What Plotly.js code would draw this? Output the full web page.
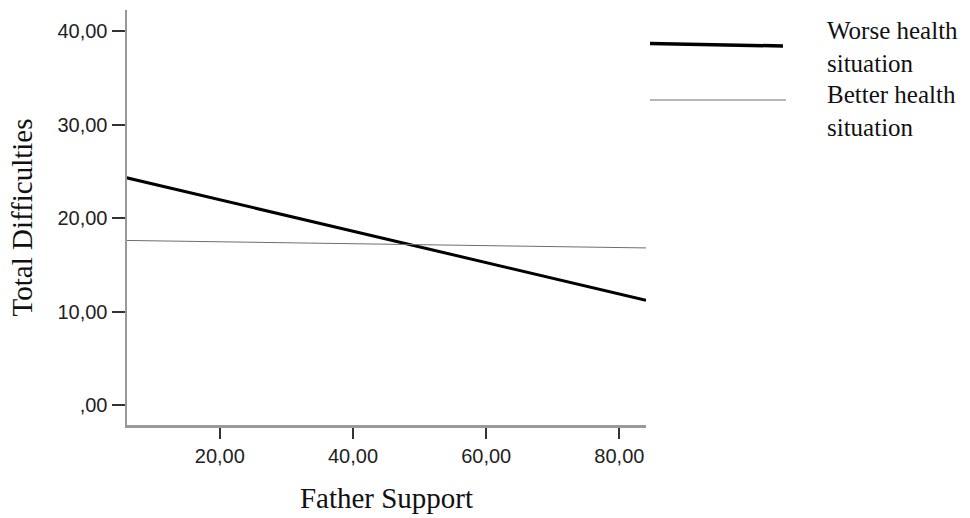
<!DOCTYPE html>
<html>
<head>
<meta charset="utf-8">
<script src="https://cdn.plot.ly/plotly-3.0.1.min.js"></script>
<style>html,body{margin:0;padding:0;background:#fff;}#chart{width:970px;height:518px;}</style>
</head>
<body>
<div id="chart"></div>
<script>
var fatherSupport = [6, 84];
var worseHealth = [24.3, 11.2];
var betterHealth = [17.6, 16.8];
var seriesNames = ["Worse health<br>situation", "Better health<br>situation"];
var yTickVals = [0, 10, 20, 30, 40];
var yTickText = [",00", "10,00", "20,00", "30,00", "40,00"];
var xTickVals = [20, 40, 60, 80];
var xTickText = ["20,00", "40,00", "60,00", "80,00"];

var traces = [
  {x: fatherSupport, y: worseHealth, mode: 'lines', name: seriesNames[0],
   line: {color: '#000', width: 3}, showlegend: false, hoverinfo: 'skip'},
  {x: fatherSupport, y: betterHealth, mode: 'lines', name: seriesNames[1],
   line: {color: '#6e6e6e', width: 1}, showlegend: false, hoverinfo: 'skip'}
];

var serif = 'Liberation Serif, Times New Roman, serif';
var sans = 'Liberation Sans, Arial, sans-serif';

var L = 127, T = 10, W = 519, H = 415;
function px(x) { return (x - L) / W; }
function py(y) { return (T + H - y) / H; }

var layout = {
  width: 970, height: 518,
  margin: {l: L, r: 970 - L - W, t: T, b: 518 - T - H},
  paper_bgcolor: '#fff', plot_bgcolor: '#fff',
  xaxis: {
    range: [6.06, 84], showgrid: false, zeroline: false,
    showline: true, linecolor: '#999', linewidth: 2.5,
    ticks: 'outside', ticklen: 11, tickwidth: 2, tickcolor: '#333',
    tickvals: xTickVals, ticktext: xTickText,
    tickfont: {family: sans, size: 20, color: '#222'},
    title: {text: 'Father Support', font: {family: serif, size: 29, color: '#111'}, standoff: 22}
  },
  yaxis: {
    range: [-2.14, 42.25], showgrid: false, zeroline: false,
    showline: true, linecolor: '#999', linewidth: 2.5,
    ticks: 'outside', ticklen: 13, tickwidth: 2, tickcolor: '#333',
    tickvals: yTickVals, ticktext: yTickText,
    tickfont: {family: sans, size: 20, color: '#222'},
    title: {text: 'Total Difficulties', font: {family: serif, size: 29, color: '#111'}, standoff: 17}
  },
  shapes: [
    {type: 'line', xref: 'paper', yref: 'paper',
     x0: px(650), x1: px(783), y0: py(43.5), y1: py(46),
     line: {color: '#000', width: 3.5}},
    {type: 'line', xref: 'paper', yref: 'paper',
     x0: px(650), x1: px(786), y0: py(100), y1: py(100),
     line: {color: '#6e6e6e', width: 1}}
  ],
  annotations: [
    {xref: 'paper', yref: 'paper', x: px(825), y: py(15),
     xanchor: 'left', yanchor: 'top', align: 'left', showarrow: false,
     text: seriesNames[0], font: {family: serif, size: 25, color: '#111'}},
    {xref: 'paper', yref: 'paper', x: px(825), y: py(79),
     xanchor: 'left', yanchor: 'top', align: 'left', showarrow: false,
     text: seriesNames[1], font: {family: serif, size: 25, color: '#111'}}
  ]
};

Plotly.newPlot('chart', traces, layout, {displayModeBar: false, staticPlot: true});
</script>
</body>
</html>
